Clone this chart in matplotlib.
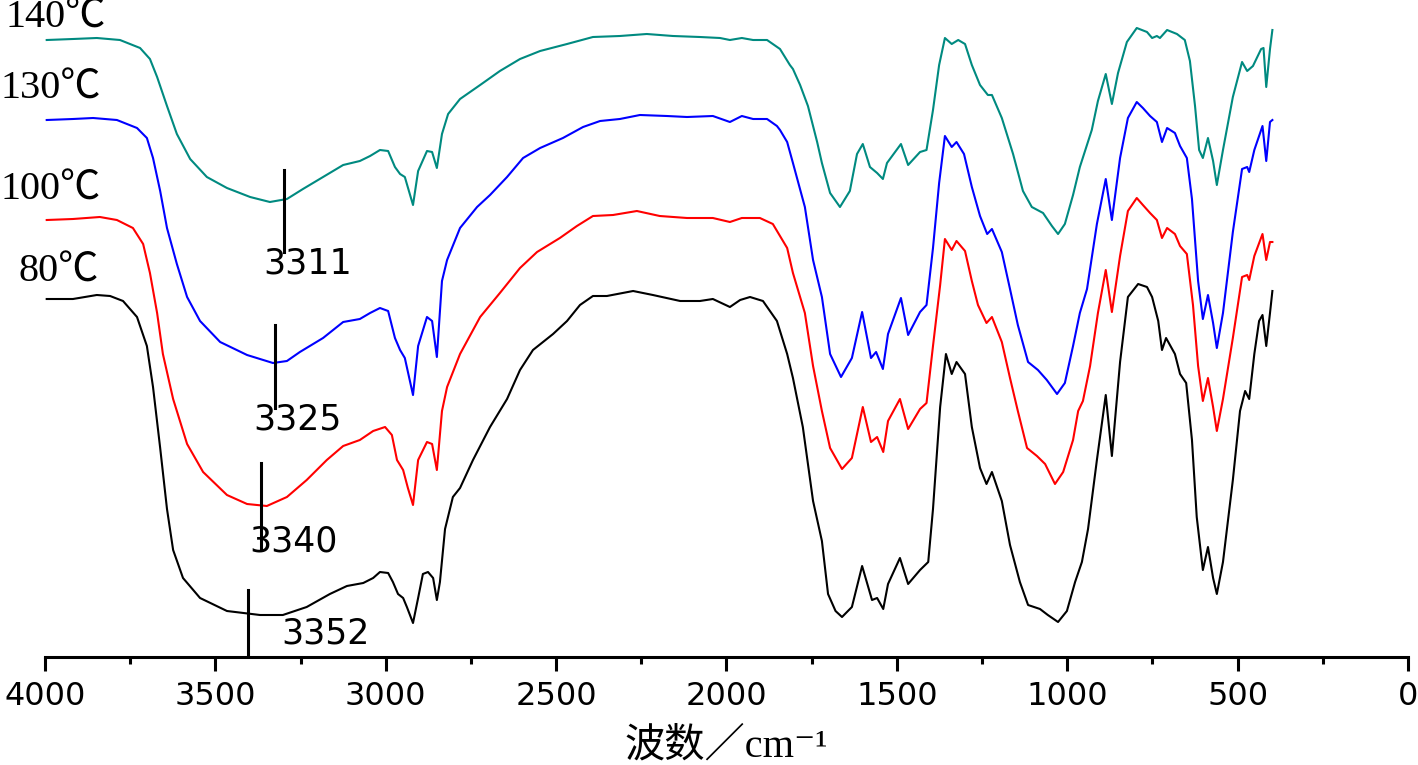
import numpy as np
import matplotlib.pyplot as plt
from matplotlib.ticker import MultipleLocator

# FTIR spectra (wavenumber, offset transmittance in a.u.)
wn_80 = [3995, 3918, 3848, 3809, 3771, 3730, 3701, 3683, 3662, 3642, 3624, 3595, 3545, 3466, 3369, 3302,
         3232, 3164, 3114, 3066, 3037, 3017, 2993, 2979, 2964, 2949, 2938, 2920, 2905, 2891, 2876, 2861,
         2850, 2841, 2826, 2803, 2782, 2744, 2694, 2644, 2606, 2568, 2509, 2468, 2430, 2392, 2351, 2274,
         2216, 2136, 2078, 2040, 1990, 1960, 1931, 1893, 1852, 1822, 1805, 1776, 1746, 1720, 1702, 1680,
         1661, 1632, 1602, 1573, 1558, 1540, 1526, 1491, 1467, 1432, 1408, 1394, 1373, 1356, 1339, 1325,
         1300, 1280, 1256, 1237, 1221, 1192, 1168, 1139, 1115, 1080, 1057, 1027, 1001, 977, 957, 939,
         913, 887, 869, 845, 822, 792, 766, 751, 733, 722, 710, 684, 669, 651, 634, 620, 602, 587, 572,
         561, 543, 514, 493, 478, 466, 451, 437, 427, 416, 405, 398]
t_80 = [358, 358, 362, 361, 356, 340, 311, 270, 209, 148, 107, 79, 59, 46, 42, 42,
        50, 63, 71, 74, 79, 85, 84, 75, 63, 59, 50, 34, 59, 83, 85, 79,
        57, 75, 128, 160, 169, 197, 230, 258, 287, 307, 323, 336, 352, 361, 361, 366,
        362, 356, 356, 358, 350, 357, 360, 356, 336, 303, 279, 230, 156, 116, 63, 46,
        40, 50, 91, 57, 59, 48, 73, 99, 73, 87, 95, 148, 250, 303, 283, 295,
        283, 230, 189, 173, 185, 156, 112, 75, 52, 48, 42, 35, 46, 75, 95, 128,
        197, 262, 201, 295, 360, 373, 370, 360, 336, 307, 319, 303, 283, 274, 217, 140, 87, 110, 79,
        63, 95, 177, 246, 266, 258, 303, 336, 342, 311, 344, 366]

wn_100 = [3995, 3918, 3839, 3789, 3742, 3712, 3692, 3671, 3654, 3624, 3583, 3536, 3466, 3407, 3349, 3290,
          3232, 3173, 3125, 3076, 3037, 3002, 2982, 2967, 2949, 2935, 2920, 2905, 2879, 2864, 2850, 2835,
          2820, 2782, 2723, 2665, 2606, 2556, 2489, 2439, 2392, 2333, 2263, 2196, 2116, 2040, 1990, 1955,
          1902, 1864, 1843, 1822, 1805, 1770, 1746, 1720, 1696, 1661, 1632, 1600, 1576, 1558, 1540, 1526,
          1491, 1467, 1432, 1413, 1394, 1373, 1359, 1339, 1325, 1300, 1280, 1262, 1237, 1221, 1192, 1168,
          1145, 1118, 1089, 1065, 1036, 1012, 983, 968, 954, 933, 910, 887, 869, 845, 822, 796, 778, 757,
          737, 722, 707, 684, 669, 649, 631, 616, 602, 587, 572, 561, 543, 514, 487, 472, 466, 451, 427,
          416, 405, 398]
t_100 = [437, 438, 440, 437, 429, 413, 384, 344, 303, 258, 213, 185, 162, 153, 151, 160,
         177, 197, 211, 217, 226, 230, 222, 197, 187, 169, 152, 197, 215, 213, 187, 246,
         270, 303, 340, 364, 389, 405, 419, 431, 441, 442, 446, 441, 439, 439, 435, 439,
         439, 433, 421, 409, 384, 344, 291, 246, 209, 188, 199, 250, 215, 220, 205, 236,
         258, 228, 248, 254, 311, 372, 418, 407, 416, 406, 376, 352, 334, 340, 315, 279,
         246, 209, 201, 193, 173, 185, 217, 246, 256, 291, 344, 387, 345, 401, 446, 459, 452, 444,
         437, 419, 429, 423, 411, 403, 352, 291, 256, 279, 250, 226, 258, 319, 380, 382, 377, 401, 423,
         397, 415, 415]

wn_130 = [3995, 3918, 3859, 3789, 3730, 3701, 3683, 3662, 3642, 3613, 3583, 3545, 3486, 3407, 3331, 3290,
          3252, 3184, 3125, 3076, 3046, 3017, 2993, 2973, 2958, 2944, 2920, 2905, 2879, 2864, 2850, 2835,
          2820, 2782, 2732, 2694, 2644, 2597, 2547, 2480, 2421, 2371, 2313, 2254, 2175, 2116, 2040, 1990,
          1955, 1922, 1881, 1852, 1843, 1822, 1805, 1770, 1746, 1720, 1696, 1664, 1632, 1602, 1576, 1561,
          1541, 1526, 1488, 1467, 1432, 1413, 1394, 1376, 1359, 1339, 1325, 1303, 1280, 1256, 1235, 1221,
          1192, 1168, 1145, 1115, 1086, 1060, 1030, 1007, 983, 963, 942, 913, 887, 869, 845, 822, 796,
          778, 757, 737, 722, 707, 684, 669, 649, 634, 616, 602, 587, 572, 561, 543, 514, 487, 472, 466,
          451, 427, 416, 405, 398]
t_130 = [537, 538, 539, 537, 529, 519, 499, 466, 429, 393, 360, 336, 315, 302, 294, 296,
         305, 319, 335, 338, 344, 349, 346, 319, 307, 299, 262, 311, 340, 336, 300, 376,
         397, 429, 450, 462, 480, 499, 509, 519, 530, 536, 538, 542, 541, 540, 541, 535,
         541, 538, 538, 531, 527, 515, 494, 450, 397, 360, 303, 280, 299, 345, 299, 305,
         288, 323, 359, 322, 345, 352, 409, 474, 521, 510, 515, 503, 470, 441, 423, 428,
         405, 368, 332, 295, 287, 277, 263, 274, 311, 344, 368, 433, 478, 437, 499, 539, 555,
         549, 541, 535, 515, 529, 524, 511, 499, 458, 376, 338, 362, 334, 309, 344, 425, 488, 490, 485,
         507, 531, 496, 535, 537]

wn_140 = [3995, 3918, 3848, 3780, 3721, 3692, 3671, 3642, 3613, 3574, 3525, 3466, 3398, 3340, 3290, 3243,
          3184, 3125, 3076, 3046, 3017, 2993, 2973, 2958, 2944, 2920, 2905, 2879, 2864, 2850, 2835, 2817,
          2782, 2723, 2665, 2606, 2547, 2468, 2392, 2313, 2234, 2157, 2078, 2019, 1990, 1955, 1922, 1881,
          1843, 1814, 1805, 1784, 1761, 1746, 1734, 1720, 1696, 1667, 1638, 1617, 1600, 1579, 1558, 1541,
          1529, 1488, 1467, 1432, 1413, 1394, 1376, 1359, 1339, 1320, 1300, 1280, 1256, 1233, 1221, 1192,
          1159, 1130, 1104, 1071, 1045, 1027, 1007, 983, 963, 928, 910, 887, 869, 851, 825, 796, 766,
          751, 737, 728, 707, 678, 655, 640, 625, 613, 602, 587, 572, 561, 543, 514, 487, 472, 455, 431,
          424, 416, 405, 398]
t_140 = [617, 618, 619, 617, 609, 598, 580, 551, 523, 498, 480, 469, 460, 455, 458, 468,
         480, 492, 496, 501, 507, 506, 490, 483, 480, 452, 486, 506, 505, 489, 523, 543,
         558, 572, 586, 598, 606, 613, 620, 621, 623, 621, 620, 619, 617, 619, 617, 617,
         608, 592, 588, 572, 551, 531, 515, 494, 464, 450, 466, 503, 513, 490, 484, 478,
         494, 513, 492, 505, 507, 547, 592, 619, 613, 617, 613, 592, 572, 562, 562, 539,
         503, 466, 450, 444, 431, 423, 433, 462, 490, 527, 556, 583, 553, 584, 615, 629, 625,
         619, 621, 619, 627, 623, 617, 596, 551, 507, 499, 519, 496, 472, 507, 560, 595, 586, 591, 608,
         609, 570, 608, 627]

series_labels = ['80℃', '100℃', '130℃', '140℃']
series_colors = ['black', '#ff0000', '#0000ff', '#008a80']

# O-H band minima marked on each curve
peak_labels = ['3352', '3340', '3325', '3311']
peak_x = [3404, 3366, 3325, 3299]
peak_lo = [0, 108, 249, 405]
peak_hi = [67, 194, 332, 487]
peak_text_x = [3178, 3272, 3258, 3228]
peak_text_y = [24, 115, 238, 393]

label_x = [4079, 4132, 4132, 4117]
label_y = [385, 467, 568, 639]

fig = plt.figure(figsize=(14.18, 7.65), dpi=100)
ax = fig.add_axes([45 / 1418, 108 / 765, 1363 / 1418, 657 / 765])

curves = [(wn_80, t_80), (wn_100, t_100), (wn_130, t_130), (wn_140, t_140)]
for (x, y), c in zip(curves, series_colors):
    ax.plot(x, y, color=c, lw=1.5)

cjk = ['Liberation Serif', 'Noto Sans CJK SC', 'DejaVu Sans']
for i in range(4):
    ax.plot([peak_x[i], peak_x[i]], [peak_lo[i], peak_hi[i]], color='black', lw=2.2)
    ax.text(peak_text_x[i], peak_text_y[i], peak_labels[i], fontsize=25,
            ha='center', va='center', family='DejaVu Sans')
    ax.text(label_x[i], label_y[i], series_labels[i], fontsize=29, ha='left', va='center',
            family=cjk, clip_on=False)

ax.set_xlim(4000, 0)
ax.set_ylim(0, 657)
for s in ['left', 'right', 'top']:
    ax.spines[s].set_visible(False)
ax.spines['bottom'].set_linewidth(2.2)
ax.set_yticks([])
ax.xaxis.set_major_locator(MultipleLocator(500))
ax.xaxis.set_minor_locator(MultipleLocator(250))
ax.tick_params(axis='x', which='major', length=10, width=2.2, pad=7, labelsize=23)
ax.tick_params(axis='x', which='minor', length=5, width=2.2)

ax.set_xlabel('波数／cm⁻¹', fontsize=29, family=cjk, labelpad=12)

fig.savefig('out.png', dpi=100)
